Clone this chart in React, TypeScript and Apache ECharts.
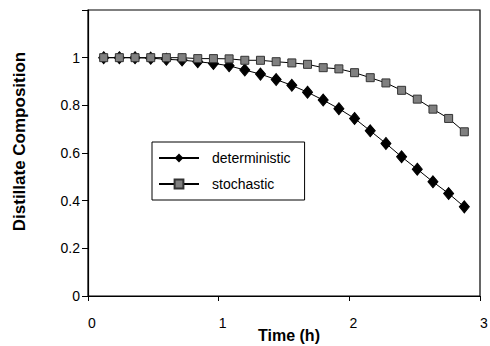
import React, { useEffect, useRef } from "react";
import * as echarts from "echarts";

const times = [0.12, 0.24, 0.36, 0.48, 0.6, 0.72, 0.84, 0.96, 1.08, 1.2, 1.32, 1.44, 1.56, 1.68, 1.8, 1.92, 2.04, 2.16, 2.28, 2.4, 2.52, 2.64, 2.76, 2.88];
const deterministic = [1.0, 1.0, 1.0, 0.998, 0.993, 0.99, 0.983, 0.976, 0.966, 0.948, 0.931, 0.908, 0.884, 0.855, 0.822, 0.786, 0.745, 0.693, 0.64, 0.584, 0.532, 0.479, 0.43, 0.374];
const stochastic = [1.0, 1.0, 1.0, 1.0, 1.0, 1.0, 0.996, 0.996, 0.995, 0.989, 0.989, 0.983, 0.978, 0.972, 0.958, 0.953, 0.937, 0.916, 0.894, 0.863, 0.826, 0.784, 0.745, 0.689];
const yTickLabels = ["0", "0.2", "0.4", "0.6", "0.8", "1", ""];

const FONT = "Liberation Sans, Arial, sans-serif";

export default function App() {
  const ref = useRef<HTMLDivElement>(null);
  useEffect(() => {
    if (!ref.current) return;
    const chart = echarts.init(ref.current, undefined, { renderer: "svg" });
    chart.setOption({
      animation: false,
      backgroundColor: "#fff",
      textStyle: { fontFamily: FONT },
      grid: {
        left: 88,
        right: 10,
        top: 10,
        bottom: 50,
        outerBoundsMode: "none",
        containLabel: false,
        show: true,
        borderColor: "#000",
        borderWidth: 1.2,
        backgroundColor: "transparent",
      },
      legend: {
        orient: "vertical",
        left: 152,
        top: 142,
        width: 150,
        backgroundColor: "#fff",
        borderColor: "#000",
        borderWidth: 1,
        padding: [9, 14, 9, 6],
        itemWidth: 40,
        itemHeight: 11,
        itemGap: 12,
        textStyle: { fontSize: 14, color: "#000", fontFamily: FONT, padding: [0, 0, 0, 8] },
        data: ["deterministic", "stochastic"],
      },
      xAxis: {
        type: "value",
        min: 0,
        max: 3,
        interval: 1,
        name: "Time (h)",
        nameLocation: "middle",
        nameGap: 31,
        nameMoveOverlap: false,
        nameTextStyle: { fontSize: 16, fontWeight: "bold", color: "#000", fontFamily: FONT, padding: [0, 0, 0, 10] },
        axisLine: { show: true, lineStyle: { color: "#000", width: 1.2 } },
        axisTick: { show: true, length: 5, lineStyle: { color: "#000" } },
        axisLabel: { fontSize: 14, color: "#000", margin: 20, fontFamily: FONT, padding: [0, 0, 0, 8] },
        splitLine: { show: false },
      },
      yAxis: {
        type: "value",
        min: 0,
        max: 1.2,
        interval: 0.2,
        name: "Distillate Composition",
        nameLocation: "middle",
        nameGap: 60,
        nameMoveOverlap: false,
        nameTextStyle: { fontSize: 17, fontWeight: "bold", color: "#000", fontFamily: FONT, padding: [0, 0, 0, 23] },
        axisLine: { show: true, lineStyle: { color: "#000", width: 1.2 } },
        axisTick: { show: true, length: 6, lineStyle: { color: "#000" } },
        axisLabel: {
          fontSize: 14,
          color: "#000",
          margin: 8,
          fontFamily: FONT,
          formatter: (v: number) => yTickLabels[Math.round(v / 0.2)] ?? "",
        },
        splitLine: { show: false },
      },
      series: [
        {
          name: "deterministic",
          type: "line",
          data: times.map((t, i) => [t, deterministic[i]]),
          symbol: "diamond",
          symbolSize: [10, 12],
          itemStyle: { color: "#000", borderColor: "#000" },
          lineStyle: { color: "#000", width: 1 },
          z: 3,
        },
        {
          name: "stochastic",
          type: "line",
          data: times.map((t, i) => [t, stochastic[i]]),
          symbol: "rect",
          symbolSize: 8,
          itemStyle: { color: "#808080", borderColor: "#333", borderWidth: 1 },
          lineStyle: { color: "#000", width: 1 },
          z: 4,
        },
      ],
    });
    return () => chart.dispose();
  }, []);
  return <div ref={ref} style={{ position: "fixed", left: 0, top: 0, width: 490, height: 346 }} />;
}
